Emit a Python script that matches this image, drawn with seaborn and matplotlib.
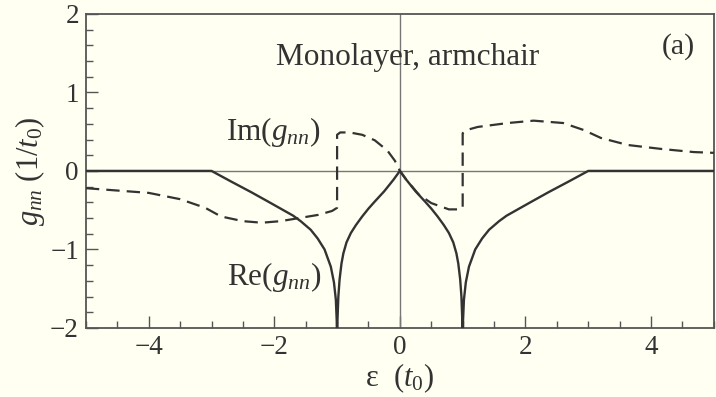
import matplotlib
matplotlib.use("Agg")
import matplotlib.pyplot as plt
from matplotlib.ticker import MultipleLocator
import seaborn as sns
import pandas as pd

# Energy grid (in units of t0) and the real part of g_nn
re_eps = [-5.0, -3.0, -2.7, -2.37, -2.1, -1.9, -1.7, -1.58, -1.42, -1.31, -1.2,
          -1.1, -1.05, -1.02, -1.006, -1.0,
          -0.994, -0.98, -0.96, -0.93, -0.9, -0.85, -0.78, -0.7, -0.6, -0.5,
          -0.4, -0.25, -0.1, 0.0,
          0.1, 0.25, 0.4, 0.5, 0.6, 0.7, 0.78, 0.85, 0.9, 0.93, 0.96, 0.98,
          0.994, 1.0,
          1.006, 1.02, 1.05, 1.1, 1.2, 1.31, 1.42, 1.58, 1.7, 1.9, 2.1, 2.37,
          2.7, 3.0, 5.0]
re_g = [0.0, 0.0, -0.13, -0.27, -0.39, -0.48, -0.57, -0.64, -0.75, -0.86, -1.0,
        -1.22, -1.42, -1.64, -1.9, -2.2,
        -1.9, -1.6, -1.38, -1.18, -1.05, -0.91, -0.79, -0.69, -0.58, -0.48,
        -0.39, -0.26, -0.11, 0.0,
        -0.11, -0.26, -0.39, -0.48, -0.58, -0.69, -0.79, -0.91, -1.05, -1.18,
        -1.38, -1.6,
        -1.9, -2.2,
        -1.9, -1.64, -1.42, -1.22, -1.0, -0.86, -0.75, -0.64, -0.57, -0.48,
        -0.39, -0.27, -0.13, 0.0, 0.0]

# Imaginary part of g_nn (jumps at eps = -1 and eps = +1)
im_eps = [-5.0, -4.5, -4.0, -3.5, -3.1, -2.85, -2.5, -2.2, -1.9, -1.6, -1.3,
          -1.08, -1.0, -1.0, -0.95, -0.8, -0.6, -0.4, -0.2, -0.08, 0.0,
          0.1, 0.3, 0.5, 0.78, 0.95, 1.0, 1.0, 1.06, 1.24, 1.72, 2.13, 2.6,
          2.93, 3.2, 3.63, 4.16, 4.68, 5.0]
im_g = [-0.22, -0.25, -0.28, -0.36, -0.47, -0.58, -0.64, -0.66, -0.64, -0.60, -0.56,
        -0.51, -0.47, 0.46, 0.49, 0.49, 0.46, 0.39, 0.26, 0.13, 0.0,
        -0.11, -0.30, -0.41, -0.49, -0.49, -0.47, 0.48, 0.52, 0.56, 0.61, 0.64, 0.61,
        0.52, 0.42, 0.33, 0.28, 0.24, 0.23]

x_ticks = [-4, -2, 0, 2, 4]
y_ticks = [-2, -1, 0, 1, 2]

bg = "#FFFFF2"
ink = "#333333"

sns.set_theme(style="ticks")
plt.rcParams["font.family"] = ["Liberation Serif", "DejaVu Serif"]
plt.rcParams["mathtext.fontset"] = "custom"
plt.rcParams["mathtext.rm"] = "Liberation Serif"
plt.rcParams["mathtext.it"] = "Liberation Serif:italic"
plt.rcParams["axes.unicode_minus"] = True

fig = plt.figure(figsize=(7.16, 3.97), dpi=100, facecolor=bg)
ax = fig.add_axes([0.120, 0.174, 0.877, 0.791], facecolor=bg)

# zero reference lines
ax.axhline(0, color="#777777", lw=1.0, zorder=1)
ax.axvline(0, color="#777777", lw=1.0, zorder=1)

re_df = pd.DataFrame({"eps": re_eps, "g": re_g})
im_df = pd.DataFrame({"eps": im_eps, "g": im_g})

sns.lineplot(data=re_df, x="eps", y="g", sort=False, estimator=None,
             color=ink, lw=1.7, ax=ax, zorder=3)
sns.lineplot(data=im_df, x="eps", y="g", sort=False, estimator=None,
             color=ink, lw=1.6, ax=ax, zorder=3, dashes=False,
             linestyle=(0, (6, 3.2)))

ax.set_xlim(-5, 5)
ax.set_ylim(-2, 2)
ax.set_xticks(x_ticks)
ax.set_yticks(y_ticks)
ax.xaxis.set_minor_locator(MultipleLocator(0.5))
ax.yaxis.set_minor_locator(MultipleLocator(0.2))
ax.tick_params(which="major", direction="in", length=8.5, width=1.0, color="#555555",
               labelsize=19.5, labelcolor=ink, top=False, right=False, pad=5)
ax.tick_params(which="minor", direction="in", length=5, width=1.0, color="#555555",
               top=False, right=False)
for s in ax.spines.values():
    s.set_color("#555555")
    s.set_linewidth(1.3)

ax.set_xlabel(r"ε  ($t_0$)", fontsize=22, color=ink, labelpad=1)
ax.set_ylabel(r"$g_{nn}$ (1/$t_0$)", fontsize=22, color=ink, labelpad=2)

ax.text(0.12, 1.44, "Monolayer, armchair", fontsize=22.5, color=ink,
        ha="center", va="center")
ax.text(4.43, 1.58, "(a)", fontsize=21.5, color=ink, ha="center", va="center")
ax.text(-2.02, 0.5, r"Im($g_{nn}$)", fontsize=22.5, color=ink, ha="center", va="center")
ax.text(-2.0, -1.35, r"Re($g_{nn}$)", fontsize=22.5, color=ink, ha="center", va="center")

fig.savefig("out.png", dpi=100, facecolor=bg)
